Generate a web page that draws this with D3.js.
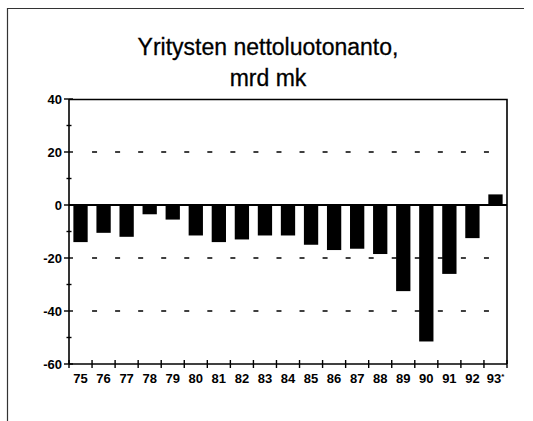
<!DOCTYPE html>
<html>
<head>
<meta charset="utf-8">
<script src="https://cdn.jsdelivr.net/npm/d3@7"></script>
<style>
    body { margin: 0; background: #fff; }
    text { font-family: "Liberation Sans", Arial, Helvetica, sans-serif; }
</style>
</head>
<body>
<div id="graph1"></div>
<script>
// Yritysten nettoluotonanto, mrd mk (1975-1993*)
const years = ["75", "76", "77", "78", "79", "80", "81", "82", "83", "84",
    "85", "86", "87", "88", "89", "90", "91", "92", "93*"];
const values = [-14, -10.5, -12, -3.5, -5.5, -11.5, -14, -13, -11.5, -11.5,
    -15, -17, -16.5, -18.5, -32.5, -51.5, -26, -12.5, 4];
const yTicks = [40, 20, 0, -20, -40, -60];
const yMinor = [30, 10, -10, -30, -50];
const gridValues = [20, -20, -40];

const width = 533, height = 421;
const margin = {top: 99, right: 26, bottom: 57, left: 69};
const plotW = width - margin.left - margin.right;
const plotH = height - margin.top - margin.bottom;

let root = d3.select("#graph1")
    .append("svg")
    .attr("width", width)
    .attr("height", height);

// outer frame (only top and left are visible in the scan)
root.append("line")
    .attr("x1", 8).attr("x2", 524).attr("y1", 8.5).attr("y2", 8.5)
    .attr("stroke", "#333").attr("stroke-width", 1.2);
root.append("line")
    .attr("x1", 7.5).attr("x2", 7.5).attr("y1", 8).attr("y2", height)
    .attr("stroke", "#333").attr("stroke-width", 1.2);

// title
root.selectAll(".title")
    .data(["Yritysten nettoluotonanto,", "mrd mk"])
    .enter()
    .append("text")
    .attr("class", "title")
    .attr("x", 268)
    .attr("y", (d, i) => 55 + i * 31)
    .style("text-anchor", "middle")
    .style("font-size", "23px")
    .style("stroke", "#000")
    .style("stroke-width", 0.3)
    .text(d => d);

let svg = root.append("g")
    .attr("transform", `translate(${margin.left}, ${margin.top})`);

let x = d3.scaleBand()
    .domain(years)
    .range([0, plotW])
    .paddingInner(0.38)
    .paddingOuter(0.19);

let y = d3.scaleLinear()
    .domain([-60, 40])
    .range([plotH, 0]);

// dashed gridlines, dashes sit on the category boundaries
let step = plotW / years.length;
svg.selectAll(".grid")
    .data(gridValues)
    .enter()
    .append("line")
    .attr("class", "grid")
    .attr("x1", step).attr("x2", plotW - 4)
    .attr("y1", d => y(d)).attr("y2", d => y(d))
    .attr("stroke", "#000")
    .attr("stroke-width", 1.7)
    .attr("stroke-dasharray", `5, ${step - 5}`);

// bars
svg.selectAll("rect.bar")
    .data(values)
    .enter()
    .append("rect")
    .attr("class", "bar")
    .attr("x", (d, i) => x(years[i]))
    .attr("y", d => y(Math.max(0, d)))
    .attr("width", x.bandwidth())
    .attr("height", d => Math.abs(y(d) - y(0)))
    .attr("fill", "#000");

// zero line
svg.append("line")
    .attr("x1", 0).attr("x2", plotW)
    .attr("y1", y(0)).attr("y2", y(0))
    .attr("stroke", "#000").attr("stroke-width", 2.2);

// top and right border of plot area
svg.append("path")
    .attr("d", `M0,0.5H${plotW}V${plotH}`)
    .attr("fill", "none")
    .attr("stroke", "#000")
    .attr("stroke-width", 1.6);

// y axis: major ticks cross the axis, minor ones are shorter
let yAxis = svg.append("g");
yAxis.append("line")
    .attr("x1", 0).attr("x2", 0).attr("y1", 0).attr("y2", plotH)
    .attr("stroke", "#000").attr("stroke-width", 1.6);
yAxis.selectAll(".major")
    .data(yTicks)
    .enter()
    .append("line")
    .attr("x1", -5).attr("x2", 4)
    .attr("y1", d => y(d)).attr("y2", d => y(d))
    .attr("stroke", "#000").attr("stroke-width", 1.4);
yAxis.selectAll(".minor")
    .data(yMinor)
    .enter()
    .append("line")
    .attr("x1", -2.5).attr("x2", 2.5)
    .attr("y1", d => y(d)).attr("y2", d => y(d))
    .attr("stroke", "#000").attr("stroke-width", 1.4);
yAxis.selectAll("text")
    .data(yTicks)
    .enter()
    .append("text")
    .attr("x", -7)
    .attr("y", d => y(d))
    .attr("dy", "0.35em")
    .style("text-anchor", "end")
    .style("font-size", "13px")
    .style("font-weight", "bold")
    .text(d => d);

// x axis with ticks on category boundaries
let xAxis = svg.append("g")
    .attr("transform", `translate(0, ${plotH})`);
xAxis.append("line")
    .attr("x1", 0).attr("x2", plotW)
    .attr("stroke", "#000").attr("stroke-width", 1.6);
xAxis.selectAll(".tick")
    .data(d3.range(years.length + 1))
    .enter()
    .append("line")
    .attr("x1", i => i * step).attr("x2", i => i * step)
    .attr("y1", -4).attr("y2", 4)
    .attr("stroke", "#000").attr("stroke-width", 1.4);
let labels = xAxis.selectAll(".label")
    .data(years)
    .enter()
    .append("text")
    .attr("x", d => x(d) + x.bandwidth() / 2)
    .attr("y", 19)
    .style("text-anchor", "middle")
    .style("font-size", "13px")
    .style("font-weight", "bold");
labels.append("tspan").text(d => d.replace("*", ""));
labels.filter(d => d.includes("*"))
    .append("tspan")
    .attr("dy", -4)
    .style("font-size", "8px")
    .text("*");
</script>
</body>
</html>
